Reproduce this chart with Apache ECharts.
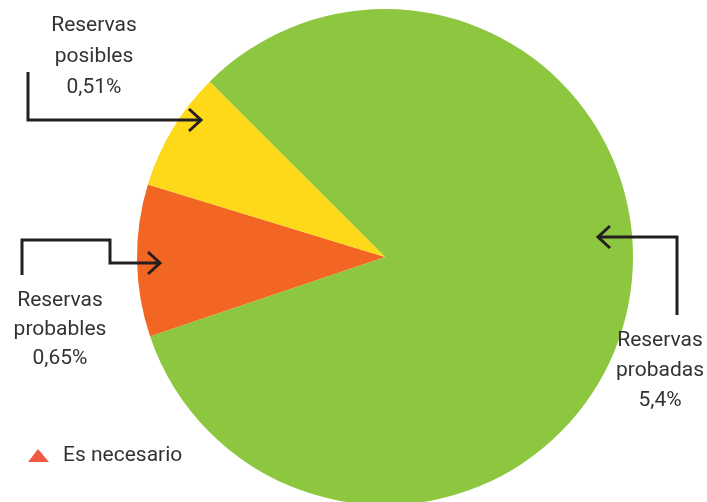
<!DOCTYPE html>
<html>
<head>
<meta charset="utf-8">
<script src="https://cdn.jsdelivr.net/npm/echarts@6/dist/echarts.min.js"></script>
<style>
  html, body { margin: 0; padding: 0; background: #fff; }
  #chart { width: 707px; height: 502px; }
</style>
</head>
<body>
<div id="chart"></div>
<script>
// datos de reservas (%)
var categories = ['Reservas probadas', 'Reservas probables', 'Reservas posibles'];
var values = [5.4, 0.65, 0.51];
var colors = ['#8dc63f', '#f26522', '#fed91a'];

var font = 'Roboto, "DejaVu Sans Condensed", sans-serif';
var ink = '#231f20';

function pct(v) {
  return String(v).replace('.', ',') + '%';
}
function labelText(i) {
  var parts = categories[i].split(' ');
  return parts[0] + '\n' + parts[1] + '\n' + pct(values[i]);
}

var chart = echarts.init(document.getElementById('chart'));

function arrow(points, tipDir) {
  var tip = points[points.length - 1];
  var head;
  if (tipDir === 'right') {
    head = [[tip[0] - 12, tip[1] - 11], tip, [tip[0] - 12, tip[1] + 11]];
  } else {
    head = [[tip[0] + 12, tip[1] - 11], tip, [tip[0] + 12, tip[1] + 11]];
  }
  return [
    { type: 'polyline', z: 100, shape: { points: points }, style: { stroke: ink, lineWidth: 3, fill: null } },
    { type: 'polyline', z: 100, shape: { points: head }, style: { stroke: ink, lineWidth: 3, fill: null } }
  ];
}

function textBlock(x, y, str, lh) {
  return {
    type: 'text', x: x, y: y, z: 100,
    style: { text: str, font: '21px ' + font, fill: '#333', align: 'center', lineHeight: lh, verticalAlign: 'top' }
  };
}

var graphics = []
  .concat(arrow([[28, 72], [28, 120], [201, 120]], 'right'))
  .concat(arrow([[22, 275], [22, 240], [110, 240], [110, 263], [160, 263]], 'right'))
  .concat(arrow([[677, 315], [677, 237], [598, 237]], 'left'))
  .concat([
    textBlock(94, 10, labelText(2), 31),
    textBlock(60, 286, labelText(1), 29),
    textBlock(660, 326, labelText(0), 30),
    { type: 'polygon', z: 100, shape: { points: [[28, 462], [38, 449], [49, 462]] }, style: { fill: '#f05a44' } },
    { type: 'text', x: 63, y: 456, z: 100, style: { text: 'Es necesario', font: '21px ' + font, fill: '#333', verticalAlign: 'middle' } }
  ]);

var option = {
  animation: false,
  series: [{
    type: 'pie',
    center: [385, 257],
    radius: [0, 248],
    startAngle: 135,
    clockwise: true,
    label: { show: false },
    labelLine: { show: false },
    emphasis: { disabled: true },
    data: categories.map(function (c, i) {
      return { name: c, value: values[i], itemStyle: { color: colors[i] } };
    })
  }],
  graphic: graphics
};

chart.setOption(option);
window.addEventListener('resize', function () {
  chart.resize();
});
</script>
</body>
</html>
